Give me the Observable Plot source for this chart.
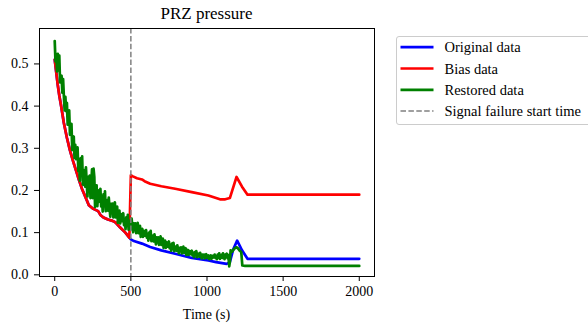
<!DOCTYPE html>
<html>
<head>
<meta charset="utf-8">
<script src="https://cdn.jsdelivr.net/npm/d3@7"></script>
<script src="https://cdn.jsdelivr.net/npm/@observablehq/plot@0.6"></script>
<style>
  html, body { margin: 0; padding: 0; background: #fff; overflow: hidden; }
  #wrap { position: relative; width: 588px; height: 324px; font-family: "Liberation Serif", "Times New Roman", serif; color: #000; }
  #wrap > svg, #wrap > figure { position: absolute; left: 0; top: 0; margin: 0; }
  .title { position: absolute; left: 0; width: 413px; top: 0; text-align: center; font-size: 17px; line-height: 1; }
  .xlabel { position: absolute; left: 0; width: 413px; text-align: center; font-size: 14px; line-height: 1; }
  #legend { position: absolute; left: 395.5px; top: 35.5px; width: 210px; height: 89px; border: 1px solid #cccccc; border-radius: 3px; background: #fff; box-sizing: border-box; }
</style>
</head>
<body>
<div id="wrap"></div>
<script>
// ---- data ----
const chartTitle = "PRZ pressure";
const xLabel = "Time (s)";
const xTicks = [0, 500, 1000, 1500, 2000];
const yTicks = [0.0, 0.1, 0.2, 0.3, 0.4, 0.5];
const failureTime = [500];
const seriesNames = ["Original data", "Bias data", "Restored data", "Signal failure start time"];
const seriesColors = ["#0000ff", "#ff0000", "#008000", "#808080"];

// Original data (blue) [time, value]
const originalData = [
  [0,0.51],[10,0.48],[20,0.45],[30,0.425],[42,0.40],[60,0.36],[80,0.325],[100,0.295],
  [120,0.27],[140,0.247],[160,0.224],[180,0.203],[200,0.186],[224,0.165],[250,0.157],
  [268,0.154],[285,0.151],[300,0.142],[320,0.136],[350,0.131],[380,0.128],[400,0.124],
  [430,0.112],[464,0.100],[490,0.088],[500,0.084],
  [520,0.080],[573,0.074],[627,0.066],[700,0.058],[791,0.050],[900,0.040],[1009,0.034],
  [1060,0.030],[1129,0.026],[1150,0.030],[1172,0.060],[1198,0.081],[1230,0.058],
  [1266,0.038],[2000,0.038]
];

// Bias data (red) after the failure at 500 s; before it, it equals the original data
const biasAfterFailure = [
  [500,0.236],[510,0.234],[540,0.229],[573,0.226],[590,0.222],[627,0.216],[700,0.210],
  [791,0.204],[900,0.196],[1009,0.188],[1085,0.179],[1120,0.179],[1150,0.182],
  [1194,0.232],[1230,0.209],[1266,0.190],[2000,0.190]
];

// Restored data (green, noisy) [time, value]
const restoredData = [
  [0,0.554],[5,0.506],[10,0.524],[15,0.482],[20,0.524],[25,0.488],[30,0.520],[35,0.456],
  [40,0.470],[45,0.472],[50,0.432],[55,0.464],[60,0.424],[65,0.390],[70,0.422],[75,0.388],
  [80,0.408],[85,0.356],[90,0.376],[95,0.390],[100,0.332],[105,0.342],[110,0.358],[115,0.296],
  [120,0.312],[125,0.328],[130,0.277],[135,0.308],[140,0.274],[145,0.287],[150,0.302],
  [155,0.246],[160,0.271],[165,0.223],[170,0.276],[175,0.236],[180,0.281],[185,0.214],
  [190,0.238],[195,0.248],[200,0.209],[205,0.255],[210,0.217],[215,0.186],[220,0.232],
  [225,0.201],[230,0.235],[235,0.182],[240,0.218],[245,0.250],[250,0.182],[255,0.252],
  [260,0.232],[265,0.161],[270,0.187],[275,0.212],[280,0.163],[285,0.200],[290,0.173],
  [295,0.189],[300,0.204],[305,0.162],[310,0.184],[315,0.150],[320,0.191],[325,0.164],
  [330,0.198],[335,0.151],[340,0.170],[345,0.177],[350,0.152],[355,0.183],[360,0.158],
  [365,0.138],[370,0.168],[375,0.149],[380,0.169],[385,0.136],[390,0.157],[395,0.172],
  [400,0.136],[405,0.147],[410,0.162],[415,0.123],[420,0.138],[425,0.152],[430,0.122],
  [435,0.144],[440,0.127],[445,0.137],[450,0.146],[455,0.118],[460,0.132],[465,0.108],
  [470,0.136],[475,0.116],[480,0.142],[485,0.107],[490,0.122],[495,0.128],[500,0.108],
  [505,0.133],[510,0.115],[515,0.101],[520,0.122],[525,0.108],[530,0.122],[535,0.099],
  [540,0.113],[545,0.123],[550,0.099],[555,0.106],[560,0.116],[565,0.090],[570,0.099],
  [575,0.109],[580,0.090],[585,0.104],[590,0.093],[595,0.100],[600,0.106],[605,0.088],
  [610,0.097],[615,0.081],[620,0.100],[625,0.087],[630,0.104],[635,0.080],[640,0.089],
  [645,0.093],[650,0.079],[655,0.096],[660,0.083],[665,0.072],[670,0.089],[675,0.077],
  [680,0.089],[685,0.071],[690,0.082],[695,0.091],[700,0.071],[705,0.077],[710,0.086],
  [715,0.064],[720,0.073],[725,0.081],[730,0.064],[735,0.077],[740,0.067],[745,0.073],
  [750,0.079],[755,0.063],[760,0.071],[765,0.057],[770,0.074],[775,0.062],[780,0.076],
  [785,0.056],[790,0.064],[795,0.067],[800,0.057],[805,0.070],[810,0.060],[815,0.051],
  [820,0.064],[825,0.056],[830,0.065],[835,0.051],[840,0.060],[845,0.067],[850,0.052],
  [855,0.056],[860,0.063],[865,0.047],[870,0.053],[875,0.059],[880,0.047],[885,0.056],
  [890,0.049],[895,0.053],[900,0.057],[905,0.046],[910,0.052],[915,0.042],[920,0.054],
  [925,0.046],[930,0.056],[935,0.042],[940,0.048],[945,0.050],[950,0.043],[955,0.052],
  [960,0.045],[965,0.039],[970,0.048],[975,0.042],[980,0.048],[985,0.039],[990,0.045],
  [995,0.049],[1000,0.040],[1005,0.042],[1010,0.046],[1015,0.037],[1020,0.041],[1025,0.046],
  [1030,0.038],[1035,0.045],[1040,0.041],[1045,0.044],[1050,0.048],[1055,0.040],[1060,0.042],
  [1065,0.037],[1070,0.048],[1075,0.041],[1080,0.051],[1085,0.038],[1090,0.044],[1095,0.047],
  [1100,0.040],[1105,0.051],[1110,0.043],[1115,0.037],[1120,0.048],[1125,0.042],[1130,0.050],
  [1135,0.039],[1140,0.047],[1146,0.020],[1150,0.030],[1155,0.058],[1165,0.055],[1175,0.060],
  [1185,0.064],[1195,0.065],[1205,0.062],[1215,0.057],[1225,0.054],[1232,0.022],[1250,0.021],
  [2000,0.021]
];

// ---- build ----
const serif = "'Liberation Serif', 'Times New Roman', Times, serif";
const biasData = originalData.filter(d => d[0] < 500).concat(biasAfterFailure);
const lineW = 2.7;

const chart = Plot.plot({
  width: 588,
  height: 324,
  marginLeft: 39,
  marginRight: 214,
  marginTop: 28,
  marginBottom: 48,
  style: { fontFamily: serif, fontSize: "14px", color: "#000", background: "transparent", overflow: "visible" },
  x: { domain: [-100, 2100], ticks: xTicks, tickFormat: d3.format("d"), tickSize: 5, tickPadding: 5, label: null },
  y: { domain: [-0.004, 0.584], ticks: yTicks, tickFormat: d3.format(".1f"), tickSize: 5, tickPadding: 6, label: null },
  marks: [
    Plot.line(originalData, { x: d => d[0], y: d => d[1], stroke: seriesColors[0], strokeWidth: lineW }),
    Plot.line(biasData, { x: d => d[0], y: d => d[1], stroke: seriesColors[1], strokeWidth: lineW }),
    Plot.line(restoredData, { x: d => d[0], y: d => d[1], stroke: seriesColors[2], strokeWidth: lineW }),
    Plot.ruleX(failureTime, { stroke: seriesColors[3], strokeWidth: 1.5, strokeDasharray: "5.5,2.4" }),
    Plot.frame({ stroke: "#000", strokeWidth: 1 })
  ]
});

const wrap = document.getElementById("wrap");
wrap.appendChild(chart);

// force the serif font on every text of the plot (axis tick labels)
const svgRoot = chart.tagName.toLowerCase() === "svg" ? chart : chart.querySelector("svg");
svgRoot.setAttribute("font-family", serif);
svgRoot.setAttribute("font-size", "14");
svgRoot.querySelectorAll("g").forEach(g => {
  if (g.hasAttribute("font-family")) g.setAttribute("font-family", serif);
  if (g.hasAttribute("font-size")) g.setAttribute("font-size", "14");
});
svgRoot.querySelectorAll("text").forEach(el => {
  el.setAttribute("font-family", serif);
  el.style.setProperty("font-family", serif, "important");
  el.style.setProperty("font-size", "14px", "important");
  el.style.setProperty("fill", "#000", "important");
  el.style.setProperty("font-variant", "normal", "important");
});

const t = document.createElement("div");
t.className = "title";
t.textContent = chartTitle;
t.style.top = "5px";
wrap.appendChild(t);

const xl = document.createElement("div");
xl.className = "xlabel";
xl.textContent = xLabel;
xl.style.top = "308px";
wrap.appendChild(xl);

// legend
const ns = "http://www.w3.org/2000/svg";
const leg = document.createElement("div");
leg.id = "legend";
const ls = document.createElementNS(ns, "svg");
ls.setAttribute("width", "210");
ls.setAttribute("height", "88");
ls.style.position = "absolute";
ls.style.left = "-1px";
ls.style.top = "-1px";
const rowY = [11.2, 32.5, 53.8, 75.1];
seriesNames.forEach((name, i) => {
  const ln = document.createElementNS(ns, "line");
  ln.setAttribute("x1", "4.5");
  ln.setAttribute("x2", "37.5");
  ln.setAttribute("y1", rowY[i]);
  ln.setAttribute("y2", rowY[i]);
  ln.setAttribute("stroke", seriesColors[i]);
  if (i === 3) {
    ln.setAttribute("stroke-width", "1.5");
    ln.setAttribute("stroke-dasharray", "5.5,2.4");
  } else {
    ln.setAttribute("stroke-width", String(lineW));
  }
  ls.appendChild(ln);
  const tx = document.createElementNS(ns, "text");
  tx.setAttribute("x", "48.5");
  tx.setAttribute("y", rowY[i] + 5);
  tx.setAttribute("font-family", serif);
  tx.setAttribute("font-size", "14.5");
  tx.setAttribute("fill", "#000");
  tx.textContent = name;
  ls.appendChild(tx);
});
leg.appendChild(ls);
wrap.appendChild(leg);
</script>
</body>
</html>
